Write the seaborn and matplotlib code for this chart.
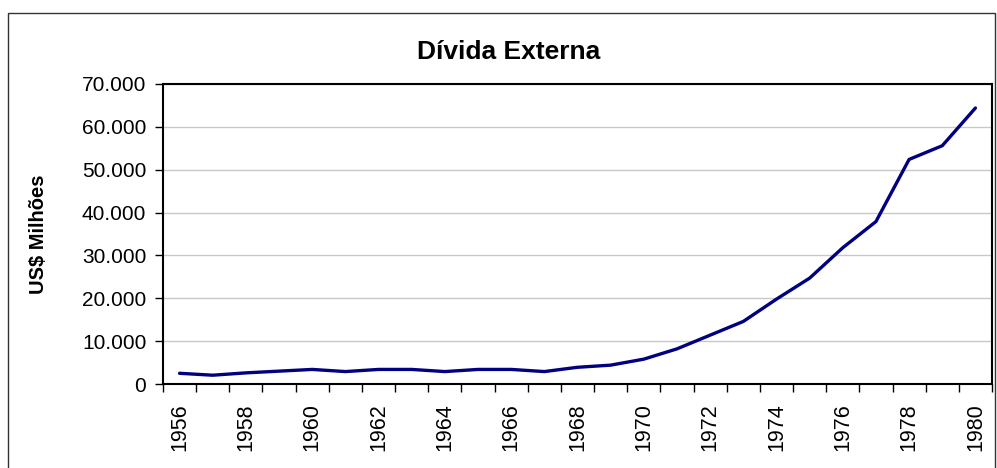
import numpy as np
import pandas as pd
import matplotlib.pyplot as plt
import matplotlib.ticker as mticker
from matplotlib.patches import Rectangle
import seaborn as sns

# Dívida externa (US$ milhões)
anos = list(range(1956, 1981))
divida = [2500, 2050, 2600, 3000, 3400, 2900, 3400, 3400, 2900, 3400,
          3400, 2900, 3900, 4400, 5800, 8200, 11400, 14600, 19800, 24700,
          31800, 37900, 52400, 55600, 64400]
rotulos_anos = [str(a) for a in range(1956, 1981, 2)]
yticks = list(range(0, 70001, 10000))

df = pd.DataFrame({"ano": anos, "divida": divida})

sns.set_style("white")
plt.rcParams["font.family"] = ["Liberation Sans", "DejaVu Sans"]
plt.rcParams["text.color"] = "black"
plt.rcParams["xtick.color"] = "black"
plt.rcParams["ytick.color"] = "black"
plt.rcParams["axes.labelcolor"] = "black"

fig = plt.figure(figsize=(9.97, 4.68), dpi=100)
ax = fig.add_axes([163 / 997, 1 - 384 / 468, (992 - 163) / 997, 300 / 468])

sns.lineplot(data=df, x="ano", y="divida", ax=ax, color="#000080", linewidth=2.4)

ax.set_xlim(1955.5, 1980.5)
ax.set_ylim(0, 70000)
ax.set_yticks(yticks)
ax.yaxis.set_major_formatter(mticker.FuncFormatter(lambda v, p: f"{v:,.0f}".replace(",", ".")))
ax.yaxis.grid(True, color="#c8c8c8", linewidth=1)
ax.set_axisbelow(True)

# marcas nos limites das categorias, rótulos a cada dois anos
ax.set_xticks(np.arange(1955.5, 1981, 1))
ax.set_xticklabels([])
ax.set_xticks([int(r) for r in rotulos_anos], minor=True)
ax.set_xticklabels(rotulos_anos, minor=True, rotation=90)
ax.tick_params(axis="x", which="major", direction="out", length=6, width=1, bottom=True)
ax.tick_params(axis="x", which="minor", length=0, pad=14, labelsize=15.5)
ax.tick_params(axis="y", direction="out", length=6, width=1, left=True,
               labelsize=15, pad=6)

for s in ax.spines.values():
    s.set_color("black")
    s.set_linewidth(1.5)

ax.set_xlabel("")
ax.set_ylabel("US$ Milhões", fontsize=14.5, fontweight="bold")
ax.yaxis.set_label_coords((38 - 163) / 829, 0.5)
ax.yaxis.label.set_va("center")

fig.text(509 / 997, 1 - 52 / 468, "Dívida Externa", ha="center", va="center",
         fontsize=19, fontweight="bold")

fig.patches.append(Rectangle((8 / 997, -0.01), (996 - 8) / 997 - 0.001, 1 - 13 / 468 + 0.01,
                             transform=fig.transFigure, fill=False, edgecolor="#333333",
                             linewidth=1))

fig.savefig("out.png", dpi=100)
